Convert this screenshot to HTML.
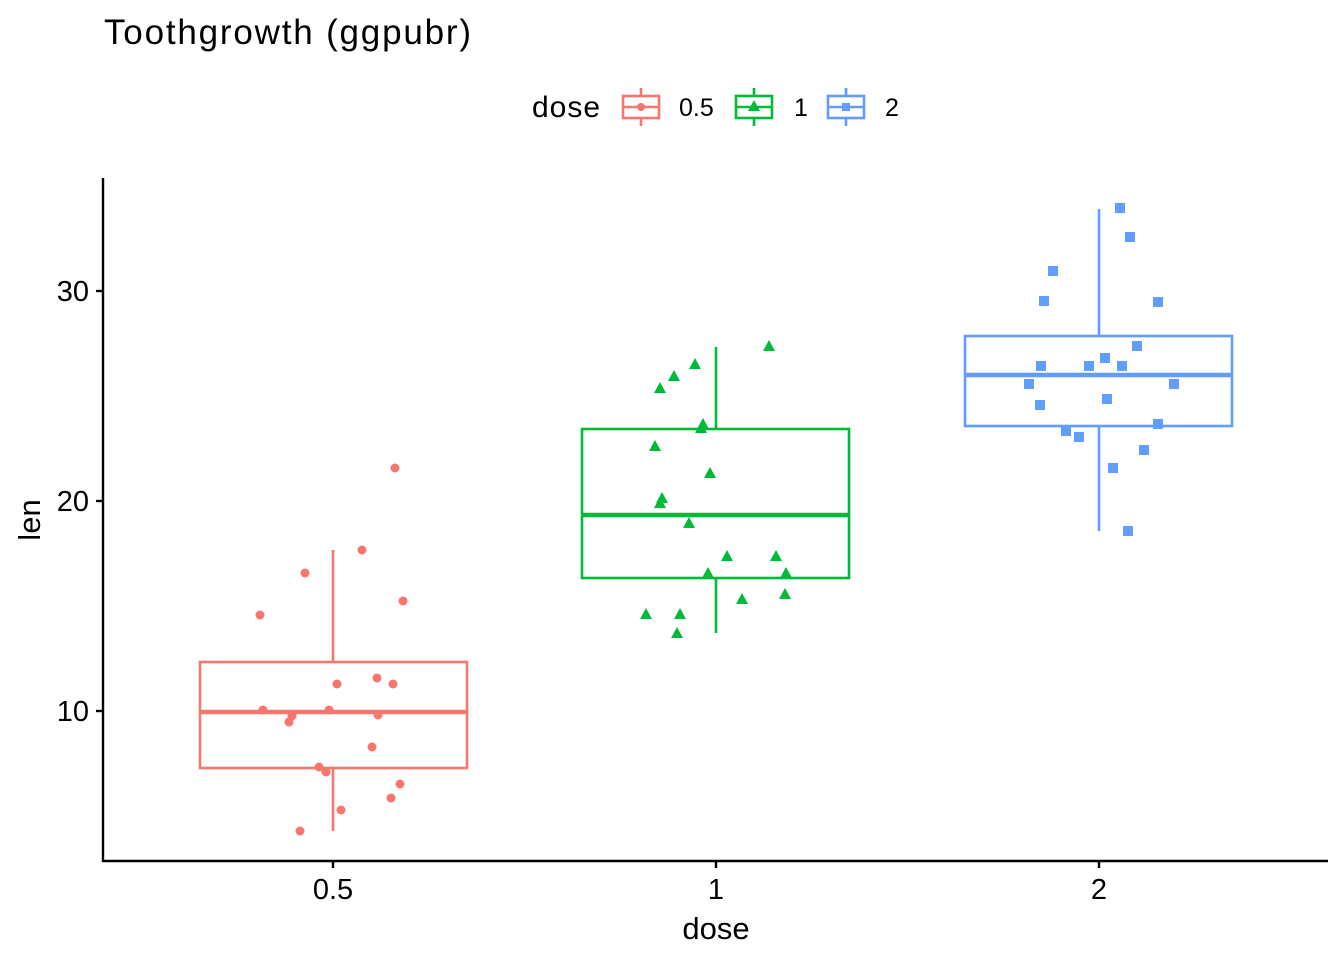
<!DOCTYPE html>
<html><head><style>body{margin:0;background:#fff}svg{display:block;font-family:"Liberation Sans",Arial,sans-serif}</style></head><body>
<svg width="1344" height="960" viewBox="0 0 1344 960">
<rect width="1344" height="960" fill="#fff"/>
<text x="104" y="44" font-size="35" textLength="367" fill="#000">Toothgrowth (ggpubr)</text>
<!-- legend -->
<text x="532" y="117" font-size="30" textLength="68" fill="#000">dose</text>
<g stroke-width="2.6" fill="none">
<g stroke="#F8766D"><line x1="641" y1="88" x2="641" y2="126"/><rect x="623" y="96" width="36" height="22" fill="#fff"/><line x1="623" y1="107" x2="659" y2="107"/></g>
<g stroke="#00BA38"><line x1="754" y1="88" x2="754" y2="126"/><rect x="736" y="96" width="36" height="22" fill="#fff"/><line x1="736" y1="107" x2="772" y2="107"/></g>
<g stroke="#619CFF"><line x1="846" y1="88" x2="846" y2="126"/><rect x="828" y="96" width="36" height="22" fill="#fff"/><line x1="828" y1="107" x2="864" y2="107"/></g>
</g>
<circle cx="641" cy="107" r="4" fill="#F8766D"/>
<polygon points="754,100 760,111 748,111" fill="#00BA38"/>
<rect x="842" y="103" width="8" height="8" fill="#619CFF"/>
<text x="679" y="116" font-size="25">0.5</text>
<text x="794" y="116" font-size="25">1</text>
<text x="885" y="116" font-size="25">2</text>
<!-- axes -->
<g stroke="#000" stroke-width="2.4">
<line x1="103" y1="178" x2="103" y2="862"/>
<line x1="102" y1="861" x2="1328" y2="861"/>
<line x1="96" y1="291" x2="103" y2="291"/><line x1="96" y1="501" x2="103" y2="501"/><line x1="96" y1="711" x2="103" y2="711"/>
<line x1="333" y1="861" x2="333" y2="868"/><line x1="716" y1="861" x2="716" y2="868"/><line x1="1099" y1="861" x2="1099" y2="868"/>
</g>
<g font-size="29" fill="#000" text-anchor="end"><text x="89" y="301">30</text><text x="89" y="511">20</text><text x="89" y="721">10</text></g>
<g font-size="29" fill="#000" text-anchor="middle"><text x="333" y="899">0.5</text><text x="716" y="899">1</text><text x="1099" y="899">2</text>
<text x="716" y="939" font-size="31">dose</text></g>
<text transform="translate(40,520) rotate(-90)" font-size="31" text-anchor="middle">len</text>
<!-- boxes -->
<g fill="none" stroke-width="2.6">
<g stroke="#F8766D"><line x1="333" y1="550" x2="333" y2="662"/><line x1="333" y1="768" x2="333" y2="831"/><rect x="200" y="662" width="267" height="106"/><line x1="200" y1="712" x2="467" y2="712" stroke-width="4.5"/></g>
<g stroke="#00BA38"><line x1="716" y1="347" x2="716" y2="429"/><line x1="716" y1="578" x2="716" y2="633"/><rect x="582" y="429" width="267" height="149"/><line x1="582" y1="515" x2="849" y2="515" stroke-width="4.5"/></g>
<g stroke="#619CFF"><line x1="1099" y1="209" x2="1099" y2="336"/><line x1="1099" y1="426" x2="1099" y2="531"/><rect x="965" y="336" width="267" height="90"/><line x1="965" y1="375" x2="1232" y2="375" stroke-width="4.5"/></g>
</g>
<g fill="#F8766D">
<circle cx="395" cy="468" r="4.5"/><circle cx="362" cy="550" r="4.5"/><circle cx="305" cy="573" r="4.5"/><circle cx="260" cy="615" r="4.5"/><circle cx="403" cy="601" r="4.5"/><circle cx="377" cy="678" r="4.5"/><circle cx="337" cy="684" r="4.5"/><circle cx="393" cy="684" r="4.5"/><circle cx="263" cy="710" r="4.5"/><circle cx="329" cy="710" r="4.5"/><circle cx="292" cy="716" r="4.5"/><circle cx="378" cy="715" r="4.5"/><circle cx="289" cy="722" r="4.5"/><circle cx="372" cy="747" r="4.5"/><circle cx="319" cy="767" r="4.5"/><circle cx="326" cy="772" r="4.5"/><circle cx="400" cy="784" r="4.5"/><circle cx="391" cy="798" r="4.5"/><circle cx="341" cy="810" r="4.5"/><circle cx="300" cy="831" r="4.5"/>
</g>
<g fill="#00BA38">
<path d="M769,340l6,11h-12z M695,358l6,11h-12z M674,370l6,11h-12z M660,382l6,11h-12z M703,418l6,11h-12z M701,422l6,11h-12z M655,440l6,11h-12z M710,467l6,11h-12z M662,492l6,11h-12z M660,497l6,11h-12z M689,517l6,11h-12z M727,550l6,11h-12z M776,550l6,11h-12z M708,567l6,11h-12z M786,567l6,11h-12z M742,593l6,11h-12z M785,588l6,11h-12z M646,608l6,11h-12z M680,608l6,11h-12z M677,627l6,11h-12z"/>
</g>
<g fill="#619CFF">
<rect x="1115" y="203" width="10" height="10"/><rect x="1125" y="232" width="10" height="10"/><rect x="1048" y="266" width="10" height="10"/><rect x="1039" y="296" width="10" height="10"/><rect x="1153" y="297" width="10" height="10"/><rect x="1132" y="341" width="10" height="10"/><rect x="1100" y="353" width="10" height="10"/><rect x="1036" y="361" width="10" height="10"/><rect x="1084" y="361" width="10" height="10"/><rect x="1117" y="361" width="10" height="10"/><rect x="1024" y="379" width="10" height="10"/><rect x="1169" y="379" width="10" height="10"/><rect x="1102" y="394" width="10" height="10"/><rect x="1035" y="400" width="10" height="10"/><rect x="1153" y="419" width="10" height="10"/><rect x="1061" y="426" width="10" height="10"/><rect x="1074" y="432" width="10" height="10"/><rect x="1139" y="445" width="10" height="10"/><rect x="1108" y="463" width="10" height="10"/><rect x="1123" y="526" width="10" height="10"/>
</g>
</svg>
</body></html>
